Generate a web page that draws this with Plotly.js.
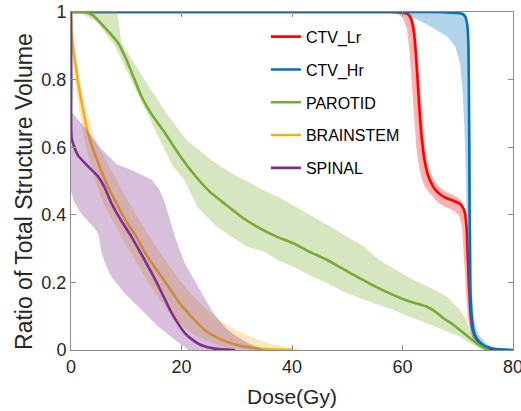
<!DOCTYPE html>
<html>
<head>
<meta charset="utf-8">
<script src="https://cdn.plot.ly/plotly-3.0.1.min.js"></script>
<style>html,body{margin:0;padding:0;background:#fff}#chart{width:521px;height:411px}</style>
</head>
<body>
<div id="chart"></div>
<script>
// ---------- data (dose in Gy, ratio of structure volume) ----------
const seriesNames = ["CTV_Lr", "CTV_Hr", "PAROTID", "BRAINSTEM", "SPINAL"];

// CTV_Lr
const lrX = [0, 58, 60, 60.8, 61.4, 62, 62.4, 62.8, 63.2, 63.6, 64.0, 64.7, 65.5, 66.2, 67, 68, 69, 70.1, 70.8, 71.3, 71.6, 71.8, 72.0, 72.3, 72.6, 73.0, 73.5, 74.2, 75.2, 76.5, 78];
const lrY = [1, 1, 0.998, 0.995, 0.985, 0.948, 0.88, 0.78, 0.68, 0.61, 0.56, 0.513, 0.485, 0.469, 0.458, 0.449, 0.443, 0.435, 0.425, 0.405, 0.36, 0.28, 0.2, 0.12, 0.07, 0.045, 0.03, 0.015, 0.005, 0.001, 0];
const lrUpX = [0, 59, 61, 61.8, 62.4, 62.8, 63.2, 63.6, 64, 64.5, 65.2, 66, 67, 68, 69, 70, 70.8, 71.4, 71.8, 72.1, 72.4, 72.8, 73.2, 73.8, 74.6, 75.6, 77, 78];
const lrUpY = [1, 1, 1, 0.99, 0.95, 0.88, 0.79, 0.7, 0.62, 0.56, 0.52, 0.495, 0.478, 0.467, 0.46, 0.452, 0.44, 0.4, 0.3, 0.2, 0.12, 0.07, 0.045, 0.025, 0.012, 0.004, 0.001, 0];
const lrLoX = [0, 57, 59, 60, 60.8, 61.3, 61.7, 62.1, 62.5, 62.9, 63.4, 64, 64.8, 65.6, 66.5, 67.5, 68.5, 69.5, 70.3, 70.8, 71.2, 71.5, 71.8, 72.2, 72.7, 73.5, 74.5, 76, 78];
const lrLoY = [1, 1, 0.995, 0.985, 0.95, 0.88, 0.79, 0.69, 0.6, 0.55, 0.51, 0.485, 0.465, 0.45, 0.435, 0.425, 0.418, 0.41, 0.395, 0.36, 0.25, 0.17, 0.1, 0.06, 0.035, 0.018, 0.006, 0.001, 0];

// CTV_Hr
const hrX = [0, 66, 68, 70, 71.0, 71.4, 71.7, 71.9, 72.05, 72.15, 72.25, 72.4, 72.6, 72.9, 73.4, 74.0, 74.8, 75.8, 77, 78.5, 80];
const hrY = [1, 1, 0.999, 0.997, 0.993, 0.985, 0.965, 0.92, 0.7, 0.4, 0.2, 0.13, 0.09, 0.055, 0.035, 0.023, 0.013, 0.007, 0.003, 0.001, 0];
const hrUpX = [0, 68, 70.5, 71.3, 71.8, 72.1, 72.3, 72.45, 72.6, 72.8, 73.2, 73.8, 74.5, 75.5, 76.5, 78, 80];
const hrUpY = [1, 1, 1, 0.995, 0.97, 0.9, 0.6, 0.3, 0.17, 0.11, 0.07, 0.045, 0.03, 0.015, 0.007, 0.002, 0];
const hrLoX = [0, 59.5, 62, 65, 68, 69.5, 70.4, 70.9, 71.2, 71.5, 71.7, 71.85, 72.1, 72.4, 72.8, 73.3, 74.0, 75, 76.5, 78, 80];
const hrLoY = [1, 1, 0.983, 0.958, 0.928, 0.9, 0.85, 0.76, 0.66, 0.5, 0.3, 0.15, 0.08, 0.05, 0.03, 0.017, 0.01, 0.004, 0.001, 0, 0];

// PAROTID
const parX = [0, 2.5, 4, 5.5, 7.3, 8.5, 10, 11.5, 12.75, 14.5, 17, 19.5, 22, 25, 28, 31, 34.2, 37, 40.2, 43, 46.3, 49, 52.3, 55, 58.3, 61, 64.4, 66, 67.4, 69, 70.4, 72, 73.4, 74.5, 75.6];
const parY = [1, 1, 0.99, 0.965, 0.933, 0.909, 0.86, 0.8, 0.75, 0.70, 0.642, 0.58, 0.525, 0.47, 0.43, 0.392, 0.36, 0.337, 0.316, 0.292, 0.267, 0.242, 0.212, 0.188, 0.163, 0.145, 0.128, 0.113, 0.094, 0.077, 0.059, 0.038, 0.02, 0.008, 0];
const parUpX = [0, 8.4, 9.1, 11, 13.7, 16.5, 19.1, 21, 23.3, 26, 29.3, 31.8, 34.2, 37.8, 40.5, 43.8, 47, 49.9, 53, 55.9, 59.5, 62, 65, 68, 70.4, 71.5, 72.2, 73, 74, 75, 76];
const parUpY = [1, 1, 0.91, 0.86, 0.79, 0.72, 0.66, 0.62, 0.59, 0.555, 0.52, 0.5, 0.478, 0.45, 0.425, 0.395, 0.365, 0.336, 0.306, 0.265, 0.232, 0.207, 0.185, 0.158, 0.118, 0.09, 0.059, 0.035, 0.015, 0.005, 0];
const parLoX = [0, 2, 4.8, 7.9, 10.9, 14.6, 18.2, 20.6, 23, 26, 29, 32, 35.1, 37.5, 40.2, 43, 46.3, 49, 52.3, 55, 58.3, 61, 64.4, 67, 70.4, 72, 73.4, 74.5];
const parLoY = [1, 0.995, 0.968, 0.9, 0.8, 0.672, 0.55, 0.5, 0.42, 0.37, 0.336, 0.305, 0.29, 0.265, 0.247, 0.223, 0.198, 0.175, 0.153, 0.137, 0.119, 0.1, 0.079, 0.062, 0.039, 0.022, 0.01, 0];

// BRAINSTEM
const bsX = [0, 0.15, 0.7, 1.3, 2.2, 3.1, 4.3, 5.5, 6.5, 8.2, 10, 11.8, 13.5, 15.5, 17.5, 19.7, 22, 24.2, 27, 30, 33, 36, 40];
const bsY = [1, 0.92, 0.86, 0.79, 0.71, 0.64, 0.58, 0.53, 0.49, 0.435, 0.38, 0.336, 0.285, 0.237, 0.19, 0.138, 0.095, 0.059, 0.032, 0.015, 0.006, 0.002, 0];
const bsUpX = [0, 0.5, 1, 2, 3, 4, 5, 6, 8, 10, 12, 14, 16, 18, 20, 22, 24, 26, 28, 30, 33, 36, 40, 42];
const bsUpY = [1, 0.93, 0.86, 0.77, 0.70, 0.645, 0.6, 0.57, 0.51, 0.45, 0.395, 0.34, 0.29, 0.245, 0.2, 0.162, 0.128, 0.1, 0.077, 0.058, 0.036, 0.018, 0.005, 0];
const bsLoX = [0, 0.3, 1, 2, 3, 4, 5, 6, 8, 10, 12, 14, 16, 18, 20, 22, 24, 26, 28, 31, 34];
const bsLoY = [0.9, 0.85, 0.76, 0.66, 0.58, 0.52, 0.47, 0.43, 0.37, 0.31, 0.255, 0.2, 0.15, 0.107, 0.073, 0.048, 0.03, 0.017, 0.008, 0.002, 0];

// SPINAL
const spX = [0, 0.05, 0.1, 0.5, 1.3, 3.1, 4.9, 6.1, 7.3, 9, 10.9, 12.5, 14.3, 15.8, 17, 18.2, 19.5, 20.6, 22, 23.5, 26, 29.7];
const spY = [1, 0.8, 0.63, 0.605, 0.575, 0.543, 0.513, 0.48, 0.435, 0.385, 0.336, 0.29, 0.237, 0.19, 0.15, 0.11, 0.075, 0.05, 0.03, 0.015, 0.004, 0];
const spUpX = [0, 2.8, 5.2, 8.2, 10.9, 12.5, 14.6, 16, 17, 18, 18.8, 19.7, 20.6, 21.8, 23, 24.2, 25.4, 26.6, 27.8, 29.5, 31.5, 33.5, 35];
const spUpY = [0.706, 0.652, 0.6, 0.55, 0.533, 0.52, 0.504, 0.475, 0.435, 0.38, 0.336, 0.295, 0.257, 0.222, 0.188, 0.152, 0.119, 0.092, 0.069, 0.045, 0.025, 0.01, 0];
const spLoX = [0, 0.5, 2, 4.3, 5.0, 5.5, 6.4, 7.3, 9.7, 12.75, 15.8, 18.8, 21.2];
const spLoY = [0.47, 0.44, 0.4, 0.36, 0.34, 0.29, 0.247, 0.217, 0.168, 0.119, 0.069, 0.03, 0];

const xTicks = [0, 20, 40, 60, 80];
const yTicks = [0, 0.2, 0.4, 0.6, 0.8, 1];
const xTitle = "Dose(Gy)";
const yTitle = "Ratio of Total Structure Volume";

// ---------- build traces ----------
const colors = ["#FF0000", "#0072BD", "#77AC30", "#EDB120", "#7E2F8E"];
const bandColors = ["rgba(255,0,0,0.3)", "rgba(0,114,189,0.3)", "rgba(119,172,48,0.3)", "rgba(237,177,32,0.3)", "rgba(126,47,142,0.3)"];
const lines = [[lrX, lrY], [hrX, hrY], [parX, parY], [bsX, bsY], [spX, spY]];
const bands = [
  [lrUpX, lrUpY, lrLoX, lrLoY],
  [hrUpX, hrUpY, hrLoX, hrLoY],
  [parUpX, parUpY, parLoX, parLoY],
  [bsUpX, bsUpY, bsLoX, bsLoY],
  [spUpX, spUpY, spLoX, spLoY]
];

const traces = [];
for (let i = 0; i < seriesNames.length; i++) {
  const b = bands[i];
  traces.push({
    type: "scatter", mode: "lines",
    x: b[0].concat(b[2].slice().reverse()),
    y: b[1].concat(b[3].slice().reverse()),
    fill: "toself", fillcolor: bandColors[i],
    line: {width: 0, color: bandColors[i]},
    hoverinfo: "skip", showlegend: false, legendgroup: "g" + i
  });
  traces.push({
    type: "scatter", mode: "lines",
    x: lines[i][0], y: lines[i][1],
    name: seriesNames[i],
    line: {color: colors[i], width: 2.6, shape: "spline", smoothing: 0.6},
    legendgroup: "g" + i
  });
}

const FONT = "'Liberation Sans', Arial, sans-serif";
const axisCommon = {
  showline: true, linecolor: "#8c8c8c", linewidth: 1, mirror: "ticks",
  ticks: "inside", ticklen: 5, tickcolor: "#8c8c8c", tickwidth: 1,
  showgrid: false, zeroline: false,
  tickfont: {family: FONT, size: 18, color: "#262626"}
};

const layout = {
  width: 521, height: 411,
  margin: {l: 71, r: 8, t: 12, b: 61},
  paper_bgcolor: "#ffffff", plot_bgcolor: "#ffffff",
  font: {family: FONT, color: "#262626"},
  xaxis: Object.assign({}, axisCommon, {
    range: [0, 80], tickvals: xTicks, ticktext: xTicks.map(String),
    ticklabeloverflow: "allow",
    title: {text: xTitle, font: {family: FONT, size: 21, color: "#262626"}, standoff: 13}
  }),
  yaxis: Object.assign({}, axisCommon, {
    range: [0, 1], tickvals: yTicks, ticktext: yTicks.map(String),
    ticklabeloverflow: "allow"
  }),
  annotations: [{
    text: yTitle, textangle: -90, showarrow: false,
    xref: "paper", yref: "paper", x: -0.106, y: 0.468,
    xanchor: "center", yanchor: "middle",
    font: {family: FONT, size: 23, color: "#262626"}
  }],
  legend: {
    x: 0.441, y: 0.977, xanchor: "left", yanchor: "top",
    bgcolor: "rgba(0,0,0,0)", borderwidth: 0,
    font: {family: FONT, size: 16, color: "#000000"},
    tracegroupgap: 9, traceorder: "grouped"
  },
  showlegend: true
};

Plotly.newPlot("chart", traces, layout, {displayModeBar: false, staticPlot: true});
</script>
</body>
</html>
